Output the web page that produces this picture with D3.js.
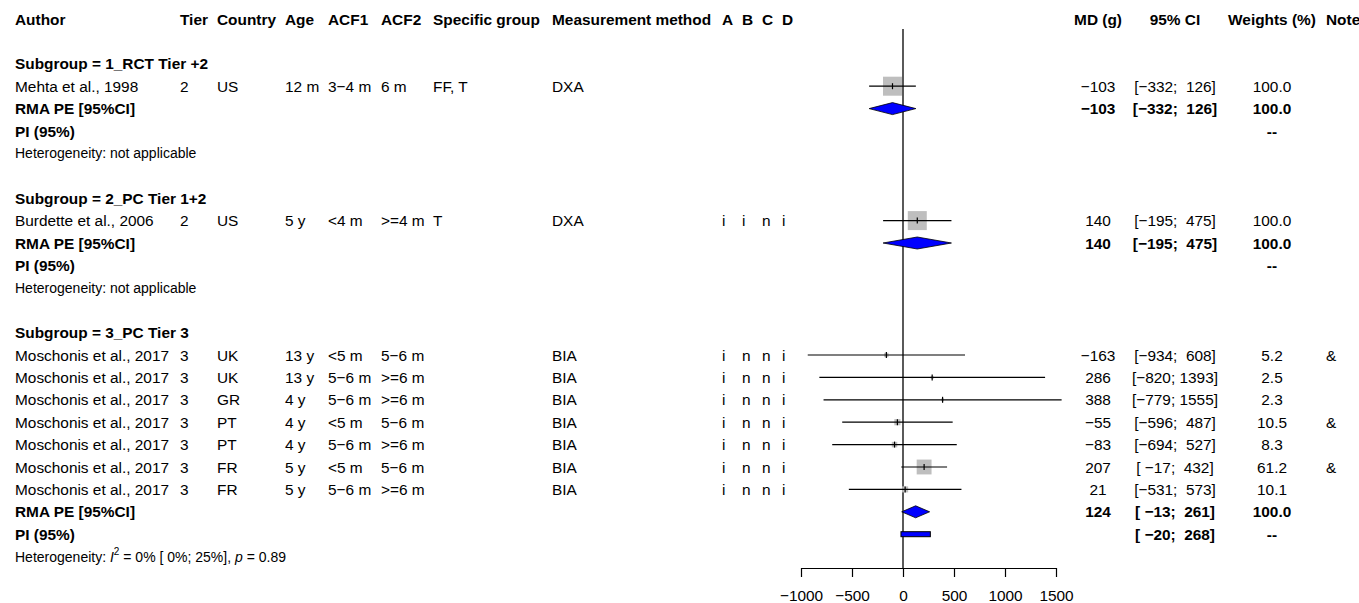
<!DOCTYPE html>
<html>
<head>
<meta charset="utf-8">
<script src="https://cdn.jsdelivr.net/npm/d3@7"></script>
<style>
  body { margin: 0; background: #fff; }
  svg text { font-family: "Liberation Sans", Arial, sans-serif; fill: #000; white-space: pre; }
</style>
</head>
<body>
<script>
// study level data
var authors = ['Mehta et al., 1998', 'Burdette et al., 2006', 'Moschonis et al., 2017', 'Moschonis et al., 2017',
    'Moschonis et al., 2017', 'Moschonis et al., 2017', 'Moschonis et al., 2017', 'Moschonis et al., 2017', 'Moschonis et al., 2017'];
var subgroupOf = [0, 1, 2, 2, 2, 2, 2, 2, 2];
var tiers = ['2', '2', '3', '3', '3', '3', '3', '3', '3'];
var countries = ['US', 'US', 'UK', 'UK', 'GR', 'PT', 'PT', 'FR', 'FR'];
var ages = ['12 m', '5 y', '13 y', '13 y', '4 y', '4 y', '4 y', '5 y', '5 y'];
var acf1 = ['3\u22124 m', '<4 m', '<5 m', '5\u22126 m', '5\u22126 m', '<5 m', '5\u22126 m', '<5 m', '5\u22126 m'];
var acf2 = ['6 m', '>=4 m', '5\u22126 m', '>=6 m', '>=6 m', '5\u22126 m', '>=6 m', '5\u22126 m', '>=6 m'];
var specificGroup = ['FF, T', 'T', '', '', '', '', '', '', ''];
var methods = ['DXA', 'DXA', 'BIA', 'BIA', 'BIA', 'BIA', 'BIA', 'BIA', 'BIA'];
var robA = ['', 'i', 'i', 'i', 'i', 'i', 'i', 'i', 'i'];
var robB = ['', 'i', 'n', 'n', 'n', 'n', 'n', 'n', 'n'];
var robC = ['', 'n', 'n', 'n', 'n', 'n', 'n', 'n', 'n'];
var robD = ['', 'i', 'i', 'i', 'i', 'i', 'i', 'i', 'i'];
var md = [-103, 140, -163, 286, 388, -55, -83, 207, 21];
var ciLow = [-332, -195, -934, -820, -779, -596, -694, -17, -531];
var ciHigh = [126, 475, 608, 1393, 1555, 487, 527, 432, 573];
var weights = [100.0, 100.0, 5.2, 2.5, 2.3, 10.5, 8.3, 61.2, 10.1];
var notes = ['', '', '&', '', '', '&', '', '&', ''];

// subgroup level data
var groupLabels = ['Subgroup = 1_RCT Tier +2', 'Subgroup = 2_PC Tier 1+2', 'Subgroup = 3_PC Tier 3'];
var pooledMd = [-103, 140, 124];
var pooledLow = [-332, -195, -13];
var pooledHigh = [126, 475, 261];
var piLow = [null, null, -20];
var piHigh = [null, null, 268];
var hetI2 = [null, null, '0%'];
var hetI2ci = [null, null, '[ 0%; 25%]'];
var hetP = [null, null, '0.89'];

var axisTicks = [-1000, -500, 0, 500, 1000, 1500];

var width = 1359;
var height = 603;
var fs = 15.4;
var fsSmall = 14;

var svg = d3.select('body').append('svg')
    .attr('width', width)
    .attr('height', height);

var x = d3.scaleLinear().domain([-1000, 1500]).range([801, 1056]);
var y = d3.scaleLinear().domain([0, 24]).range([19, 19 + 24 * 22.4]);
var box = d3.scaleSqrt().domain([0, 100]).range([0, 19]);

function num(v) {
    return (v < 0 ? '\u2212' : '') + Math.abs(v);
}
function pad(s, n) {
    while (s.length < n) s = ' ' + s;
    return s;
}
function ci(lo, hi) {
    return '[' + pad(num(lo), 4) + '; ' + pad(num(hi), 4) + ']';
}

var leftCols = [
    {name: 'Author', x: 15, vals: authors},
    {name: 'Tier', x: 180, vals: tiers},
    {name: 'Country', x: 217, vals: countries},
    {name: 'Age', x: 285, vals: ages},
    {name: 'ACF1', x: 328, vals: acf1},
    {name: 'ACF2', x: 381, vals: acf2},
    {name: 'Specific group', x: 433, vals: specificGroup},
    {name: 'Measurement method', x: 552, vals: methods},
    {name: 'A', x: 722, vals: robA},
    {name: 'B', x: 742, vals: robB},
    {name: 'C', x: 762, vals: robC},
    {name: 'D', x: 782, vals: robD}
];
var mdX = 1098, ciX = 1175, wX = 1272, noteX = 1326;

function txt(px, py, s, opts) {
    opts = opts || {};
    return svg.append('text')
        .attr('x', px)
        .attr('y', py)
        .attr('dominant-baseline', 'central')
        .attr('font-size', opts.size || fs)
        .attr('font-weight', opts.bold ? 'bold' : 'normal')
        .attr('text-anchor', opts.anchor || 'start')
        .text(s);
}

// headers
leftCols.forEach(function (c) { txt(c.x, y(0), c.name, {bold: true}); });
txt(mdX, y(0), 'MD (g)', {bold: true, anchor: 'middle'});
txt(ciX, y(0), '95% CI', {bold: true, anchor: 'middle'});
txt(wX, y(0), 'Weights (%)', {bold: true, anchor: 'middle'});
txt(noteX, y(0), 'Note', {bold: true});

// reference line
svg.append('line')
    .attr('x1', x(0)).attr('x2', x(0))
    .attr('y1', y(0) + 10).attr('y2', 568)
    .attr('stroke', 'black').attr('stroke-width', 1.3);

var r = 2;
groupLabels.forEach(function (label, g) {
    txt(15, y(r), label, {bold: true});
    r++;
    for (var i = 0; i < authors.length; i++) {
        if (subgroupOf[i] !== g) continue;
        var yy = y(r);
        leftCols.forEach(function (c) { txt(c.x, yy, c.vals[i]); });
        var s = box(weights[i]);
        svg.append('rect')
            .attr('x', x(md[i]) - s / 2).attr('y', yy - s / 2)
            .attr('width', s).attr('height', s)
            .attr('fill', '#bebebe');
        svg.append('line')
            .attr('x1', x(ciLow[i])).attr('x2', x(ciHigh[i]))
            .attr('y1', yy).attr('y2', yy)
            .attr('stroke', 'black').attr('stroke-width', 1.2);
        svg.append('line')
            .attr('x1', x(md[i])).attr('x2', x(md[i]))
            .attr('y1', yy - 3).attr('y2', yy + 3)
            .attr('stroke', 'black').attr('stroke-width', 1.2);
        txt(mdX, yy, num(md[i]), {anchor: 'middle'});
        txt(ciX, yy, ci(ciLow[i], ciHigh[i]), {anchor: 'middle'});
        txt(wX, yy, d3.format('.1f')(weights[i]), {anchor: 'middle'});
        txt(noteX, yy, notes[i]);
        r++;
    }

    // pooled estimate
    var yp = y(r);
    txt(15, yp, 'RMA PE [95%CI]', {bold: true});
    svg.append('polygon')
        .attr('points', [[x(pooledLow[g]), yp], [x(pooledMd[g]), yp - 6], [x(pooledHigh[g]), yp], [x(pooledMd[g]), yp + 6]].join(' '))
        .attr('fill', '#0000ff').attr('stroke', 'black').attr('stroke-width', 0.8);
    txt(mdX, yp, num(pooledMd[g]), {bold: true, anchor: 'middle'});
    txt(ciX, yp, ci(pooledLow[g], pooledHigh[g]), {bold: true, anchor: 'middle'});
    txt(wX, yp, '100.0', {bold: true, anchor: 'middle'});
    r++;

    // prediction interval
    var yq = y(r);
    txt(15, yq, 'PI (95%)', {bold: true});
    if (piLow[g] !== null) {
        svg.append('rect')
            .attr('x', x(piLow[g])).attr('y', yq - 2.5)
            .attr('width', x(piHigh[g]) - x(piLow[g])).attr('height', 5)
            .attr('fill', '#0000ff').attr('stroke', 'black').attr('stroke-width', 1);
        txt(ciX, yq, ci(piLow[g], piHigh[g]), {bold: true, anchor: 'middle'});
    }
    txt(wX, yq, '--', {bold: true, anchor: 'middle'});
    r++;

    // heterogeneity
    var t = txt(15, y(r), '', {size: fsSmall});
    if (hetI2[g] === null) {
        t.text('Heterogeneity: not applicable');
    } else {
        t.append('tspan').text('Heterogeneity: ');
        t.append('tspan').attr('font-style', 'italic').text('I');
        t.append('tspan').attr('font-size', 10).attr('dy', -6).text('2');
        t.append('tspan').attr('dy', 6).text(' = ' + hetI2[g] + ' ' + hetI2ci[g] + ', ');
        t.append('tspan').attr('font-style', 'italic').text('p');
        t.append('tspan').text(' = ' + hetP[g]);
    }
    r += 2;
});

// axis
var axis = svg.append('g')
    .attr('transform', 'translate(0,568)')
    .call(d3.axisBottom(x).tickValues(axisTicks).tickFormat(d3.format('d'))
        .tickSize(9).tickSizeOuter(0).tickPadding(13));
axis.selectAll('text').attr('font-size', fs).attr('font-family', '"Liberation Sans", Arial, sans-serif');
axis.selectAll('line, path').attr('stroke', 'black').attr('stroke-width', 1.2);
</script>
</body>
</html>
